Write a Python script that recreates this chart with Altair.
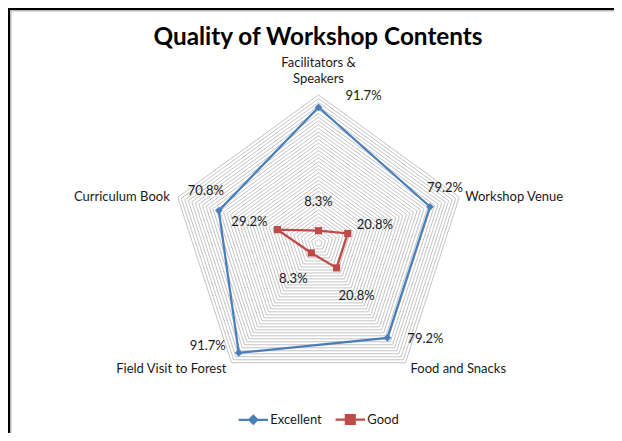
import altair as alt
import pandas as pd

# ---------------- data ----------------
categories = ["Facilitators & Speakers", "Workshop Venue", "Food and Snacks",
              "Field Visit to Forest", "Curriculum Book"]
category_text = [["Facilitators &", "Speakers"], ["Workshop Venue"], ["Food and Snacks"],
                 ["Field Visit to Forest"], ["Curriculum Book"]]
series_names = ["Excellent", "Good"]
excellent = [0.917, 0.792, 0.792, 0.917, 0.708]
good = [0.083, 0.208, 0.208, 0.083, 0.292]

# ---------------- layout / style ----------------
W, H = 606, 425
CX, CY, R = 310.5, 235.0, 148.0
N_RINGS = 40
colors = ["#4A7EBB", "#BE4B48"]
marker_shapes = ["diamond", "square"]
marker_sizes = [60, 52]
FONT = "Lato"
# pixel offsets of the value labels from their points (as placed in the original)
label_offset = {
    "Excellent": [(45, -11), (15, -19), (38, 1), (-31, -7), (-13, -20)],
    "Good": [(0, -29), (27, -8), (20, 28), (-18, 26), (-28, -8)],
}
cat_offset = [(0, -32), (6, 0), (5, 6.5), (-5, 6.5), (-8, 0)]

xdom = [-CX / R, (W - CX) / R]
ydom = [(CY - H) / R, CY / R]
xs = alt.Scale(domain=xdom, nice=False, zero=False)
ys = alt.Scale(domain=ydom, nice=False, zero=False)

n = len(categories)
rows = []
for s, vals in zip(series_names, [excellent, good]):
    for i in range(n + 1):
        k = i % n
        rows.append(dict(series=s, category=categories[k], idx=k, ord=i, value=vals[k],
                         ldx=label_offset[s][k][0], ldy=label_offset[s][k][1]))
df = pd.DataFrame(rows)

grid = pd.DataFrame([dict(ring=r, v=v) for r in range(1, N_RINGS + 1) for v in range(n + 1)])
cats = pd.DataFrame([dict(text=category_text[k], idx=k, cdx=cat_offset[k][0], cdy=cat_offset[k][1])
                     for k in range(n)])

ANG = "2*PI*datum.idx/%d" % n

grid_layer = alt.Chart(grid).transform_calculate(
    r="datum.ring/%d" % N_RINGS,
    a="2*PI*(datum.v %% %d)/%d" % (n, n),
).transform_calculate(
    gx="datum.r*sin(datum.a)", gy="datum.r*cos(datum.a)"
).mark_line(stroke="#C4C4C4", strokeWidth=1).encode(
    x=alt.X("gx:Q", scale=xs, axis=None),
    y=alt.Y("gy:Q", scale=ys, axis=None),
    detail="ring:N",
    order="v:O",
)

base = alt.Chart(df).transform_calculate(a=ANG).transform_calculate(
    px="datum.value*sin(datum.a)", py="datum.value*cos(datum.a)"
)

color_scale = alt.Scale(domain=series_names, range=colors)

sym_expr = ("datum.value == 'Excellent' ? "
            "'M-1,0H1M0,-0.27L0.27,0L0,0.27L-0.27,0Z' : "
            "'M-1,0H1M-0.3,-0.3H0.3V0.3H-0.3Z'")

legend = alt.Legend(
    title=None, orient="none", direction="horizontal",
    legendX=229.3, legendY=395.5,
    symbolType=alt.ExprRef(expr=sym_expr),
    symbolSize=864, symbolStrokeWidth=2.25,
    labelFont=FONT, labelFontSize=13, labelColor="#1a1a1a",
    labelOffset=1, columnPadding=8, padding=0,
)

line_layer = base.mark_line(strokeWidth=2.25).encode(
    x=alt.X("px:Q", scale=xs, axis=None),
    y=alt.Y("py:Q", scale=ys, axis=None),
    color=alt.Color("series:N", scale=color_scale, legend=legend),
    detail="series:N",
    order="ord:O",
)

point_layers = []
for s, shp, sz in zip(series_names, marker_shapes, marker_sizes):
    point_layers.append(
        base.transform_filter("datum.ord < %d && datum.series == '%s'" % (n, s)).mark_point(
            filled=True, opacity=1, shape=shp, size=sz
        ).encode(
            x=alt.X("px:Q", scale=xs, axis=None),
            y=alt.Y("py:Q", scale=ys, axis=None),
            color=alt.Color("series:N", scale=color_scale, legend=legend),
        )
    )

value_labels = base.transform_filter("datum.ord < %d" % n).transform_calculate(
    lx="datum.px + datum.ldx/%f" % R, ly="datum.py - datum.ldy/%f" % R
).mark_text(font=FONT, fontSize=13, color="#1a1a1a", align="center", baseline="middle").encode(
    x=alt.X("lx:Q", scale=xs, axis=None),
    y=alt.Y("ly:Q", scale=ys, axis=None),
    text=alt.Text("value:Q", format=".1%"),
)

cat_labels = alt.Chart(cats).transform_calculate(a=ANG).transform_calculate(
    cx="sin(datum.a) + datum.cdx/%f" % R, cy="cos(datum.a) - datum.cdy/%f" % R
).mark_text(
    font=FONT, fontSize=13, color="#1a1a1a", baseline="middle", lineHeight=16,
    align=alt.ExprRef(expr="datum.cdx > 0 ? 'left' : (datum.cdx < 0 ? 'right' : 'center')"),
).encode(
    x=alt.X("cx:Q", scale=xs, axis=None),
    y=alt.Y("cy:Q", scale=ys, axis=None),
    text="text",
)

title_layer = alt.Chart(pd.DataFrame({"t": ["Quality of Workshop Contents"]})).mark_text(
    font=FONT, fontSize=24.3, fontWeight="bold", color="#000000", align="center", baseline="alphabetic"
).encode(x=alt.value(310), y=alt.value(37), text="t:N")

one = pd.DataFrame({"k": [0]})
border_top = alt.Chart(one).mark_rule(color="#000000", strokeWidth=2).encode(
    x=alt.value(0), x2=alt.value(W), y=alt.value(1))
border_left = alt.Chart(one).mark_rule(color="#000000", strokeWidth=2).encode(
    x=alt.value(1), y=alt.value(0), y2=alt.value(H))
inner_top = alt.Chart(one).mark_rule(color="#B8B8B8", strokeWidth=1.5).encode(
    x=alt.value(2), x2=alt.value(W), y=alt.value(2.8))
inner_left = alt.Chart(one).mark_rule(color="#B8B8B8", strokeWidth=1.5).encode(
    x=alt.value(2.8), y=alt.value(2), y2=alt.value(H))

chart = alt.layer(
    grid_layer, line_layer, *point_layers, value_labels, cat_labels, title_layer,
    border_top, border_left, inner_top, inner_left,
).properties(
    width=W, height=H, autosize=alt.AutoSizeParams(type="none"), padding=0,
    background="#FFFFFF",
).configure_view(stroke=None)

chart.save("out.html", embed_options={"renderer": "svg", "actions": False})
